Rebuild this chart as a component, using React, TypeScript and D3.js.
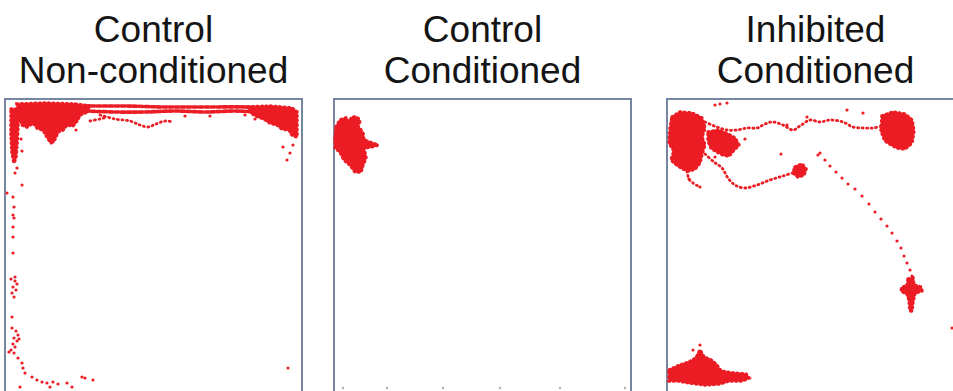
import * as d3 from "d3";

// Open-field tracking traces, three animals. Coordinates are arena mm,
// origin at the arena's top-left corner, y grows downwards.

type Pt = [number, number];

const panelTitles: [string, string][] = [
  ["Control", "Non-conditioned"],
  ["Control", "Conditioned"],
  ["Inhibited", "Conditioned"],
];

// ---- Control / Non-conditioned ----
const p1Blobs: Pt[][] = [
  // top-left corner cluster
  [[12, 5], [40, 4], [70, 5], [85, 7], [82, 13], [75, 16], [72, 22], [68, 27], [62, 26], [58, 31], [53, 33], [50, 40], [46, 44], [42, 38], [38, 31], [32, 29], [28, 24], [22, 28], [17, 26], [14, 18]],
  // top-right corner cluster
  [[243, 8], [265, 7], [287, 9], [292, 13], [292, 38], [287, 36], [284, 31], [277, 30], [272, 26], [265, 24], [259, 20], [251, 17], [246, 14]],
  // strip along the left wall
  [[6, 10], [13, 10], [13, 28], [12, 46], [11, 58], [9, 64], [7, 54], [6, 36]],
];
// dense runs along the top wall
const p1Runs: Pt[][] = [
  [[80, 7], [120, 7], [160, 8], [200, 8], [240, 8], [255, 9]],
  [[80, 12], [110, 13], [140, 13], [170, 12], [200, 13], [230, 12], [250, 13]],
];
const p1Trails: Pt[][] = [
  [[95, 16], [110, 20], [125, 22], [135, 26], [143, 28], [151, 25], [160, 22], [168, 23]],
  [[85, 22], [95, 20], [102, 18]],
];
const p1Dots: Pt[] = [
  [71, 31], [48, 43], [12, 69], [10, 74], [17, 86], [2, 94], [8, 98], [9, 108], [8, 116], [9, 119],
  [8, 128], [8, 138], [8, 154], [7, 218], [13, 259], [17, 264], [18, 269], [20, 274], [27, 278],
  [32, 281], [37, 283], [42, 284], [48, 283], [45, 288], [53, 285], [62, 284], [67, 288], [77, 278],
  [80, 279], [88, 281], [15, 288], [283, 269], [278, 48], [285, 54], [282, 61], [288, 46], [288, 14],
  [6, 180], [10, 182], [12, 185], [8, 188], [11, 191], [7, 194], [9, 198], [10, 178],
  [7, 229], [11, 232], [13, 236], [9, 239], [12, 242], [8, 245], [10, 248], [6, 251], [9, 254], [4, 253], [14, 240],
  [250, 20], [240, 16], [180, 17], [205, 17], [16, 40], [17, 52],
];

// ---- Control / Conditioned ----
const p2Blobs: Pt[][] = [
  [[2, 28], [6, 21], [12, 19], [15, 23], [18, 18], [23, 18], [26, 22], [24, 27], [29, 34], [30, 41], [38, 44], [44, 46], [37, 48], [30, 49], [32, 59], [29, 66], [27, 73], [21, 73], [16, 66], [10, 61], [6, 53], [1, 49], [1, 39]],
];
const p2Faint: Pt[] = [[9, 289], [53, 289], [109, 289], [166, 289], [226, 289], [291, 289]];

// ---- Inhibited / Conditioned ----
const p3Blobs: Pt[][] = [
  // top-left core
  [[5, 18], [13, 13], [25, 14], [35, 19], [38, 29], [35, 38], [38, 46], [35, 55], [33, 64], [28, 70], [22, 72], [16, 70], [11, 67], [4, 61], [7, 52], [2, 44], [3, 30]],
  [[41, 33], [51, 31], [61, 35], [68, 39], [72, 46], [67, 51], [62, 57], [56, 56], [50, 53], [44, 49], [41, 42]],
  // small stop on the lower loop
  [[128, 68], [135, 65], [139, 70], [137, 76], [131, 78], [126, 74]],
  // top-right cluster
  [[215, 17], [226, 13], [238, 15], [245, 21], [247, 32], [245, 44], [238, 50], [230, 49], [223, 45], [218, 42], [214, 32]],
  // lower-right stop
  [[241, 180], [246, 179], [247, 186], [254, 188], [255, 192], [248, 194], [246, 203], [245, 212], [243, 212], [242, 201], [240, 195], [234, 192], [235, 188], [240, 187]],
  // bottom-left cluster
  [[2, 271], [13, 266], [22, 263], [29, 259], [33, 251], [37, 258], [44, 261], [49, 265], [54, 272], [66, 274], [79, 275], [82, 279], [75, 282], [62, 282], [52, 285], [38, 286], [23, 284], [11, 282], [2, 282]],
];
const p3Trails: Pt[][] = [
  [[38, 55], [47, 63], [55, 69], [61, 79], [68, 86], [78, 89], [90, 86], [103, 81], [116, 77], [128, 73]],
  [[38, 23], [50, 28], [60, 31], [70, 31], [80, 29], [90, 29], [98, 25], [106, 23], [116, 26], [126, 31], [133, 27], [143, 21], [153, 23], [163, 21], [176, 23], [186, 28], [196, 29], [206, 29], [215, 27]],
  [[20, 72], [22, 80], [26, 84], [33, 88]],
];
const p3Dots: Pt[] = [
  [48, 6], [53, 5], [60, 4], [140, 18], [180, 11], [196, 14], [114, 55], [151, 56], [33, 88], [22, 80],
  [153, 54], [158, 61], [163, 67], [169, 73], [175, 79], [181, 85], [188, 90], [195, 97], [202, 105],
  [208, 113], [214, 120], [220, 127], [225, 134], [230, 142], [234, 149], [237, 157], [240, 164],
  [243, 171], [245, 177], [285, 229], [33, 246], [26, 251], [45, 40], [48, 58], [78, 40], [120, 26],
];

const panels = [
  { blobs: p1Blobs, runs: p1Runs, trails: p1Trails, dots: p1Dots, faint: [] as Pt[] },
  { blobs: p2Blobs, runs: [] as Pt[][], trails: [] as Pt[][], dots: [] as Pt[], faint: p2Faint },
  { blobs: p3Blobs, runs: [] as Pt[][], trails: p3Trails, dots: p3Dots, faint: [] as Pt[] },
];

const W = 953;
const H = 391;
const ARENA = 297; // mm
const lefts = [5, 334, 667];
const top = 99;
const size = 297;
const RED = "#ec1c24";
const BORDER = "#7686a0";

function Panel({ idx }: { idx: number }) {
  const p = panels[idx];
  const x0 = lefts[idx];
  const x = d3.scaleLinear().domain([0, ARENA]).range([x0, x0 + size]);
  const y = d3.scaleLinear().domain([0, ARENA]).range([top, top + size]);
  const blob = d3.line<Pt>().x((d) => x(d[0])).y((d) => y(d[1])).curve(d3.curveLinearClosed);
  const trail = d3.line<Pt>().x((d) => x(d[0])).y((d) => y(d[1])).curve(d3.curveCatmullRom);
  const cx = x0 + size / 2;
  return (
    <g>
      <text x={cx} y={42} textAnchor="middle" fontSize={37} fill="#141414">{panelTitles[idx][0]}</text>
      <text x={cx} y={83} textAnchor="middle" fontSize={37} fill="#141414">{panelTitles[idx][1]}</text>
      <rect x={x0} y={top} width={size} height={size} fill="#fff" stroke={BORDER} strokeWidth={2} />
      {p.blobs.map((b, i) => (
        <g key={"b" + i}>
          <path d={blob(b) ?? ""} fill={RED} stroke={RED} strokeWidth={1} strokeLinejoin="round" />
          {/* ragged dotted rim */}
          <path d={blob(b) ?? ""} fill="none" stroke={RED} strokeWidth={3.5} strokeDasharray="1 3.5" strokeLinecap="round" />
        </g>
      ))}
      {p.runs.map((t, i) => (
        <path key={"r" + i} d={trail(t) ?? ""} fill="none" stroke={RED}
          strokeWidth={3.6} strokeLinecap="round" strokeDasharray="4 2" />
      ))}
      {p.trails.map((t, i) => (
        <path key={"t" + i} d={trail(t) ?? ""} fill="none" stroke={RED}
          strokeWidth={2.8} strokeLinecap="round" strokeDasharray="1 3.5" />
      ))}
      {p.dots.map((d, i) => (
        <circle key={"d" + i} cx={x(d[0])} cy={y(d[1])} r={1.6} fill={RED} />
      ))}
      {p.faint.map((d, i) => (
        <circle key={"f" + i} cx={x(d[0])} cy={y(d[1])} r={1.2} fill="#b9a9ae" />
      ))}
    </g>
  );
}

export default function App() {
  return (
    <svg width={W} height={H} style={{ position: "absolute", left: 0, top: 0, background: "#fff" }}
      fontFamily="'Liberation Sans', Arial, sans-serif">
      <rect width={W} height={H} fill="#fff" />
      {panels.map((_, i) => <Panel key={i} idx={i} />)}
    </svg>
  );
}
